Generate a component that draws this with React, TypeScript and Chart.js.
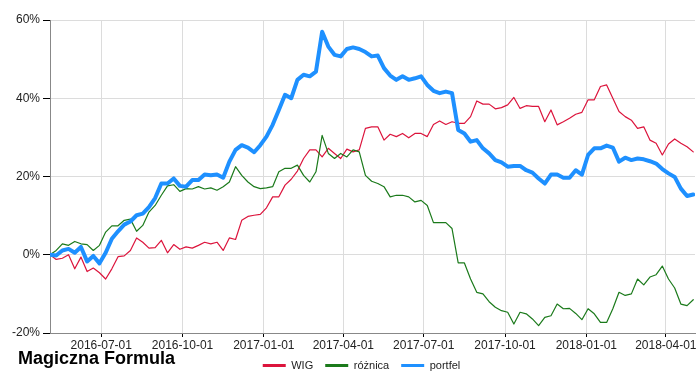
import React, { useEffect, useRef } from 'react';
import { Chart, registerables } from 'chart.js';

Chart.register(...registerables);

// Weekly observation dates
const dates = [
  '2016-05-04','2016-05-11','2016-05-18','2016-05-25','2016-06-01','2016-06-08','2016-06-15','2016-06-22','2016-06-29','2016-07-06',
  '2016-07-13','2016-07-20','2016-07-27','2016-08-03','2016-08-10','2016-08-17','2016-08-24','2016-08-31','2016-09-07','2016-09-14',
  '2016-09-21','2016-09-28','2016-10-05','2016-10-12','2016-10-19','2016-10-26','2016-11-02','2016-11-09','2016-11-16','2016-11-23',
  '2016-11-30','2016-12-07','2016-12-14','2016-12-21','2016-12-28','2017-01-04','2017-01-11','2017-01-18','2017-01-25','2017-02-01',
  '2017-02-08','2017-02-15','2017-02-22','2017-03-01','2017-03-08','2017-03-15','2017-03-22','2017-03-29','2017-04-05','2017-04-12',
  '2017-04-19','2017-04-26','2017-05-03','2017-05-10','2017-05-17','2017-05-24','2017-05-31','2017-06-07','2017-06-14','2017-06-21',
  '2017-06-28','2017-07-05','2017-07-12','2017-07-19','2017-07-26','2017-08-02','2017-08-09','2017-08-16','2017-08-23','2017-08-30',
  '2017-09-06','2017-09-13','2017-09-20','2017-09-27','2017-10-04','2017-10-11','2017-10-18','2017-10-25','2017-11-01','2017-11-08',
  '2017-11-15','2017-11-22','2017-11-29','2017-12-06','2017-12-13','2017-12-20','2017-12-27','2018-01-03','2018-01-10','2018-01-17',
  '2018-01-24','2018-01-31','2018-02-07','2018-02-14','2018-02-21','2018-02-28','2018-03-07','2018-03-14','2018-03-21','2018-03-28',
  '2018-04-04','2018-04-11','2018-04-18','2018-04-25','2018-05-02',
];

const wig = [
  0, -1.2, -0.9, 0, -3.6, -0.6, -4.3, -3.4, -4.6, -6.2, -3.6, -0.5, -0.3, 1.1, 4.3, 3.2, 1.7, 1.8, 3.7, 0.5, 2.6,
  1.4, 2.0, 1.7, 2.4, 3.2, 2.8, 3.2, 1.1, 4.3, 3.9, 8.8, 9.8, 10.1, 10.3, 12.0, 14.8, 14.8, 17.8, 19.3, 21.4, 24.6,
  26.8, 26.8, 25.0, 27.2, 25.9, 24.6, 27.0, 26.3, 26.8, 32.3, 32.7, 32.7, 29.3, 30.8, 30.2, 31.0, 29.9, 31.0, 31.0, 30.2, 33.3,
  34.2, 33.3, 34.0, 33.6, 33.6, 35.3, 39.3, 38.5, 38.5, 37.3, 37.6, 38.3, 40.2, 37.4, 38.1, 37.9, 37.9, 34.0, 37.0, 33.2, 34.0,
  34.9, 35.9, 36.4, 39.6, 39.6, 43.0, 43.4, 40.0, 36.6, 35.3, 34.4, 32.3, 32.7, 29.3, 28.5, 25.5, 28.3, 29.6, 28.5, 27.6, 26.3,
];

const roznica = [
  0, 1.1, 2.8, 2.4, 3.4, 2.8, 2.6, 1.1, 2.4, 5.8, 7.4, 7.4, 8.8, 9.1, 6.0, 7.5, 10.9, 12.6, 15.2, 17.6, 17.9,
  16.2, 16.9, 16.8, 17.4, 16.8, 17.1, 16.5, 17.4, 18.6, 22.5, 20.3, 18.6, 17.4, 16.9, 17.1, 17.4, 21.2, 22.1, 22.1, 22.9, 20.3,
  18.6, 21.2, 30.5, 25.9, 24.6, 25.9, 25.0, 26.8, 26.3, 20.3, 18.8, 18.2, 17.4, 14.8, 15.2, 15.2, 14.8, 13.5, 13.9, 12.6, 8.2,
  8.2, 8.2, 6.7, -2.1, -2.1, -6.2, -9.6, -10.0, -12.0, -13.4, -14.3, -14.7, -17.7, -14.7, -15.1, -16.4, -18.1, -16.0, -15.6, -12.6, -13.8,
  -13.7, -15.0, -16.6, -13.8, -15.1, -17.3, -17.3, -13.8, -9.6, -10.4, -10.0, -6.2, -7.7, -5.7, -5.1, -2.9, -6.2, -8.5, -12.6, -13.0, -11.5,
];

const portfel = [
  0, -0.2, 1.1, 1.5, 0.5, 2.0, -1.7, -0.3, -2.2, 0.5, 4.1, 6.0, 7.7, 8.5, 10.1, 10.5, 12.2, 14.5, 18.2, 18.2, 19.5,
  17.6, 17.4, 19.1, 19.1, 20.5, 20.3, 20.5, 19.7, 23.8, 26.8, 28.0, 27.4, 26.2, 28.0, 30.2, 33.2, 37.0, 40.9, 40.0, 44.7, 46.0,
  45.6, 46.8, 57.0, 53.2, 51.1, 50.7, 52.6, 53.0, 52.6, 51.8, 50.7, 50.9, 47.7, 45.8, 44.7, 45.6, 44.7, 45.1, 45.6, 43.4, 41.9,
  41.3, 41.7, 41.3, 31.9, 31.0, 28.9, 29.3, 27.2, 25.9, 24.2, 23.6, 22.5, 22.7, 22.7, 21.6, 21.0, 19.5, 18.2, 20.5, 20.5, 19.7,
  19.7, 21.6, 20.5, 25.5, 27.2, 27.2, 27.9, 27.4, 23.8, 24.8, 24.2, 24.6, 24.4, 23.9, 23.3, 21.9, 20.8, 19.9, 16.9, 15.0, 15.4,
];

const xTickDates = ['2016-07-01','2016-10-01','2017-01-01','2017-04-01','2017-07-01','2017-10-01','2018-01-01','2018-04-01'];
const yTickValues = [-20, 0, 20, 40, 60];
const seriesNames = ['WIG', 'różnica', 'portfel'];
const seriesColors = ['#DC143C', '#1B7A1B', '#1E90FF'];
const seriesWidths = [1.2, 1.2, 4];
const chartTitle = 'Magiczna Formula';
const xRange = ['2016-05-04', '2018-05-04'];

const FONT = '"Liberation Sans", Arial, Helvetica, sans-serif';

const toPoints = (vals: number[]) => vals.map((v, i) => ({ x: Date.parse(dates[i]), y: v }));
const fmtDate = (v: number) => new Date(v).toISOString().slice(0, 10);

// Bottom-left title, and a small offset of the legend to sit where the original one does
const titlePlugin = {
  id: 'bottomTitle',
  afterLayout(chart: any) {
    const lg = chart.legend;
    if (lg) {
      lg.left += 14;
      lg.right += 14;
      lg.top -= 7;
      lg.bottom -= 7;
    }
  },
  afterDraw(chart: any) {
    const ctx = chart.ctx;
    ctx.save();
    ctx.font = 'bold 18px ' + FONT;
    ctx.fillStyle = '#000';
    ctx.textAlign = 'left';
    ctx.textBaseline = 'alphabetic';
    ctx.fillText(chartTitle, 18, 364);
    ctx.restore();
  },
};

export default function App() {
  const ref = useRef<HTMLCanvasElement | null>(null);

  useEffect(() => {
    if (!ref.current) return;
    Chart.defaults.font.family = FONT;
    const seriesData = [wig, roznica, portfel];
    const chart = new Chart(ref.current, {
      type: 'line',
      data: {
        datasets: seriesNames.map((name, i) => ({
          label: name,
          data: toPoints(seriesData[i]),
          borderColor: seriesColors[i],
          backgroundColor: seriesColors[i],
          borderWidth: seriesWidths[i],
          pointRadius: 0,
          tension: 0,
          fill: false,
          borderJoinStyle: 'round',
          borderCapStyle: 'round',
          order: 3 - i,
        })),
      },
      options: {
        animation: false,
        responsive: true,
        maintainAspectRatio: false,
        layout: { padding: { left: 0, right: 5, top: 20, bottom: -7 } },
        plugins: {
          tooltip: { enabled: false },
          title: { display: false },
          legend: {
            position: 'bottom',
            labels: {
              boxWidth: 23,
              boxHeight: 3,
              padding: 12,
              color: '#222',
              font: { size: 11, family: FONT },
              generateLabels: () =>
                seriesNames.map((n, i) => ({
                  text: n,
                  fillStyle: seriesColors[i],
                  strokeStyle: seriesColors[i],
                  lineWidth: 0,
                  hidden: false,
                  datasetIndex: i,
                  fontColor: '#222',
                })),
            },
          },
        },
        scales: {
          x: {
            type: 'linear',
            min: Date.parse(xRange[0]),
            max: Date.parse(xRange[1]),
            afterBuildTicks: (s: any) => {
              s.ticks = xTickDates.map((d) => ({ value: Date.parse(d) }));
            },
            afterFit: (s: any) => {
              s.height = 22;
            },
            ticks: {
              callback: (v: any) => fmtDate(Number(v)),
              autoSkip: false,
              maxRotation: 0,
              minRotation: 0,
              padding: 1,
              color: '#222',
              font: { size: 12, family: FONT },
            },
            grid: { color: '#dcdcdc', tickColor: '#000', tickLength: 4, lineWidth: 1 },
            border: { color: '#888', width: 1 },
          },
          y: {
            type: 'linear',
            min: -20,
            max: 60,
            afterBuildTicks: (s: any) => {
              s.ticks = yTickValues.map((v) => ({ value: v }));
            },
            afterFit: (s: any) => {
              s.width = 50;
            },
            ticks: {
              callback: (v: any) => v + '%',
              padding: 3,
              color: '#222',
              font: { size: 12, family: FONT },
            },
            grid: { color: '#dcdcdc', tickColor: '#000', tickLength: 7, lineWidth: 1 },
            border: { color: '#888', width: 1 },
          },
        },
      } as any,
      plugins: [titlePlugin],
    });
    return () => chart.destroy();
  }, []);

  return (
    <div style={{ position: 'fixed', left: 0, top: 0, width: 700, height: 381, background: '#fff' }}>
      <canvas ref={ref} />
    </div>
  );
}
